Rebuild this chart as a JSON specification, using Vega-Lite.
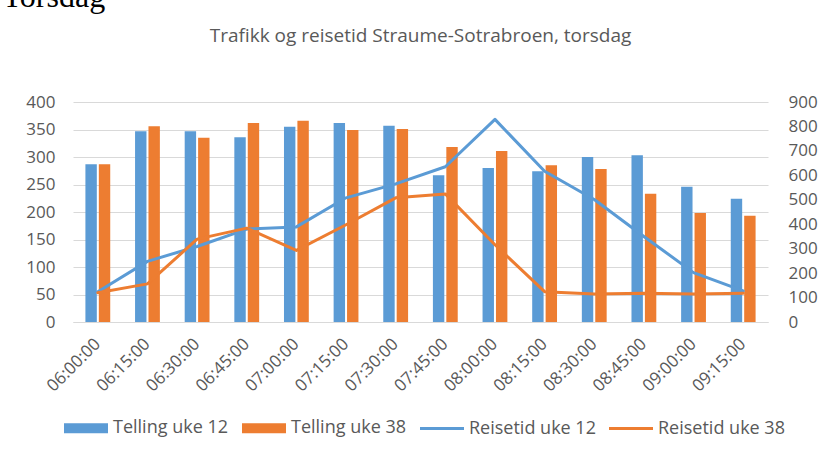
{
  "$schema": "https://vega.github.io/schema/vega-lite/v6.json",
  "autosize": {"type": "none"},
  "width": 695,
  "height": 220,
  "padding": {"left": 73, "top": 102, "right": 58, "bottom": 129},
  "background": "white",
  "title": {
    "text": "Trafikk og reisetid Straume-Sotrabroen, torsdag",
    "frame": "group",
    "anchor": "middle",
    "baseline": "alphabetic",
    "offset": -81,
    "font": "Open Sans",
    "fontSize": 19,
    "fontWeight": "normal",
    "color": "#595959"
  },
  "datasets": {
    "telling": [
      {"tid": "06:00:00", "serie": "Telling uke 12", "antall": 287},
      {"tid": "06:00:00", "serie": "Telling uke 38", "antall": 287},
      {"tid": "06:15:00", "serie": "Telling uke 12", "antall": 347},
      {"tid": "06:15:00", "serie": "Telling uke 38", "antall": 356},
      {"tid": "06:30:00", "serie": "Telling uke 12", "antall": 347},
      {"tid": "06:30:00", "serie": "Telling uke 38", "antall": 335},
      {"tid": "06:45:00", "serie": "Telling uke 12", "antall": 336},
      {"tid": "06:45:00", "serie": "Telling uke 38", "antall": 362},
      {"tid": "07:00:00", "serie": "Telling uke 12", "antall": 355},
      {"tid": "07:00:00", "serie": "Telling uke 38", "antall": 366},
      {"tid": "07:15:00", "serie": "Telling uke 12", "antall": 362},
      {"tid": "07:15:00", "serie": "Telling uke 38", "antall": 349},
      {"tid": "07:30:00", "serie": "Telling uke 12", "antall": 357},
      {"tid": "07:30:00", "serie": "Telling uke 38", "antall": 351},
      {"tid": "07:45:00", "serie": "Telling uke 12", "antall": 267},
      {"tid": "07:45:00", "serie": "Telling uke 38", "antall": 318},
      {"tid": "08:00:00", "serie": "Telling uke 12", "antall": 280},
      {"tid": "08:00:00", "serie": "Telling uke 38", "antall": 311},
      {"tid": "08:15:00", "serie": "Telling uke 12", "antall": 274},
      {"tid": "08:15:00", "serie": "Telling uke 38", "antall": 285},
      {"tid": "08:30:00", "serie": "Telling uke 12", "antall": 300},
      {"tid": "08:30:00", "serie": "Telling uke 38", "antall": 278},
      {"tid": "08:45:00", "serie": "Telling uke 12", "antall": 303},
      {"tid": "08:45:00", "serie": "Telling uke 38", "antall": 233},
      {"tid": "09:00:00", "serie": "Telling uke 12", "antall": 246},
      {"tid": "09:00:00", "serie": "Telling uke 38", "antall": 198},
      {"tid": "09:15:00", "serie": "Telling uke 12", "antall": 224},
      {"tid": "09:15:00", "serie": "Telling uke 38", "antall": 193}
    ],
    "reisetid": [
      {"tid": "06:00:00", "serie": "Reisetid uke 12", "reisetid": 124},
      {"tid": "06:15:00", "serie": "Reisetid uke 12", "reisetid": 248},
      {"tid": "06:30:00", "serie": "Reisetid uke 12", "reisetid": 309},
      {"tid": "06:45:00", "serie": "Reisetid uke 12", "reisetid": 380},
      {"tid": "07:00:00", "serie": "Reisetid uke 12", "reisetid": 389},
      {"tid": "07:15:00", "serie": "Reisetid uke 12", "reisetid": 508},
      {"tid": "07:30:00", "serie": "Reisetid uke 12", "reisetid": 565},
      {"tid": "07:45:00", "serie": "Reisetid uke 12", "reisetid": 635},
      {"tid": "08:00:00", "serie": "Reisetid uke 12", "reisetid": 829},
      {"tid": "08:15:00", "serie": "Reisetid uke 12", "reisetid": 617},
      {"tid": "08:30:00", "serie": "Reisetid uke 12", "reisetid": 501},
      {"tid": "08:45:00", "serie": "Reisetid uke 12", "reisetid": 350},
      {"tid": "09:00:00", "serie": "Reisetid uke 12", "reisetid": 202},
      {"tid": "09:15:00", "serie": "Reisetid uke 12", "reisetid": 127},
      {"tid": "06:00:00", "serie": "Reisetid uke 38", "reisetid": 120},
      {"tid": "06:15:00", "serie": "Reisetid uke 38", "reisetid": 156},
      {"tid": "06:30:00", "serie": "Reisetid uke 38", "reisetid": 339},
      {"tid": "06:45:00", "serie": "Reisetid uke 38", "reisetid": 384},
      {"tid": "07:00:00", "serie": "Reisetid uke 38", "reisetid": 293},
      {"tid": "07:15:00", "serie": "Reisetid uke 38", "reisetid": 398},
      {"tid": "07:30:00", "serie": "Reisetid uke 38", "reisetid": 508},
      {"tid": "07:45:00", "serie": "Reisetid uke 38", "reisetid": 524},
      {"tid": "08:00:00", "serie": "Reisetid uke 38", "reisetid": 316},
      {"tid": "08:15:00", "serie": "Reisetid uke 38", "reisetid": 124},
      {"tid": "08:30:00", "serie": "Reisetid uke 38", "reisetid": 115},
      {"tid": "08:45:00", "serie": "Reisetid uke 38", "reisetid": 118},
      {"tid": "09:00:00", "serie": "Reisetid uke 38", "reisetid": 115},
      {"tid": "09:15:00", "serie": "Reisetid uke 38", "reisetid": 118}
    ]
  },
  "layer": [
    {
      "data": {"name": "telling"},
      "mark": {"type": "bar"},
      "encoding": {
        "x": {
          "field": "tid",
          "type": "nominal",
          "sort": null,
          "scale": {"paddingInner": 0.5, "paddingOuter": 0.25},
          "axis": {
            "title": null,
            "labelAngle": -45,
            "labelAlign": "right",
            "labelBaseline": "middle",
            "labelPadding": 19,
            "ticks": false,
            "grid": false,
            "domain": true,
            "domainColor": "#d9d9d9",
            "domainWidth": 1,
            "labelFont": "Open Sans",
            "labelFontSize": 17,
            "labelColor": "#595959"
          }
        },
        "xOffset": {"field": "serie", "type": "nominal", "sort": null, "scale": {"paddingInner": 0.15}},
        "y": {
          "field": "antall",
          "type": "quantitative",
          "scale": {"domain": [0, 400]},
          "axis": {
            "orient": "left",
            "values": [0, 50, 100, 150, 200, 250, 300, 350, 400],
            "ticks": false,
            "domain": false,
            "grid": true,
            "gridColor": "#d9d9d9",
            "gridWidth": 1,
            "labelPadding": 18,
            "labelFont": "Open Sans",
            "labelFontSize": 17,
            "labelColor": "#595959",
            "title": "Torsdag",
            "titleAngle": 0,
            "titleX": -71,
            "titleY": -96,
            "titleAlign": "left",
            "titleBaseline": "alphabetic",
            "titleFont": "Liberation Serif",
            "titleFontSize": 32,
            "titleFontWeight": "normal",
            "titleColor": "#000000"
          }
        },
        "color": {
          "field": "serie",
          "type": "nominal",
          "scale": {
            "domain": ["Telling uke 12", "Telling uke 38", "Reisetid uke 12", "Reisetid uke 38"],
            "range": ["#5B9BD5", "#ED7D31", "#5B9BD5", "#ED7D31"]
          },
          "legend": {
            "orient": "none",
            "legendX": -9,
            "legendY": 304,
            "direction": "horizontal",
            "title": null,
            "labelFont": "Open Sans",
            "labelFontSize": 18,
            "labelColor": "#595959",
            "symbolSize": 1681,
            "symbolStrokeWidth": 3,
            "labelOffset": 5,
            "columnPadding": 8,
            "encode": {
              "symbols": {
                "update": {
                  "shape": {"signal": "test(/Telling/, datum.value) ? 'M-1,-0.1707H1V0.1707H-1Z' : 'M-1,0H1'"},
                  "fill": {"signal": "test(/Telling/, datum.value) ? scale('color', datum.value) : 'transparent'"},
                  "stroke": {"signal": "scale('color', datum.value)"},
                  "strokeCap": {"value": "square"},
                  "opacity": {"value": 1}
                }
              }
            }
          }
        }
      }
    },
    {
      "data": {"name": "reisetid"},
      "mark": {"type": "line", "strokeWidth": 3, "strokeJoin": "round", "strokeCap": "round"},
      "encoding": {
        "x": {"field": "tid", "type": "nominal", "sort": null},
        "y": {
          "field": "reisetid",
          "type": "quantitative",
          "scale": {"domain": [0, 900]},
          "axis": {
            "orient": "right",
            "values": [0, 100, 200, 300, 400, 500, 600, 700, 800, 900],
            "ticks": false,
            "domain": false,
            "grid": false,
            "labelPadding": 20,
            "labelFont": "Open Sans",
            "labelFontSize": 17,
            "labelColor": "#595959",
            "title": null
          }
        },
        "color": {"field": "serie", "type": "nominal"}
      }
    }
  ],
  "resolve": {"scale": {"y": "independent"}},
  "config": {
    "view": {"stroke": null},
    "axis": {"labelOverlap": false}
  }
}
